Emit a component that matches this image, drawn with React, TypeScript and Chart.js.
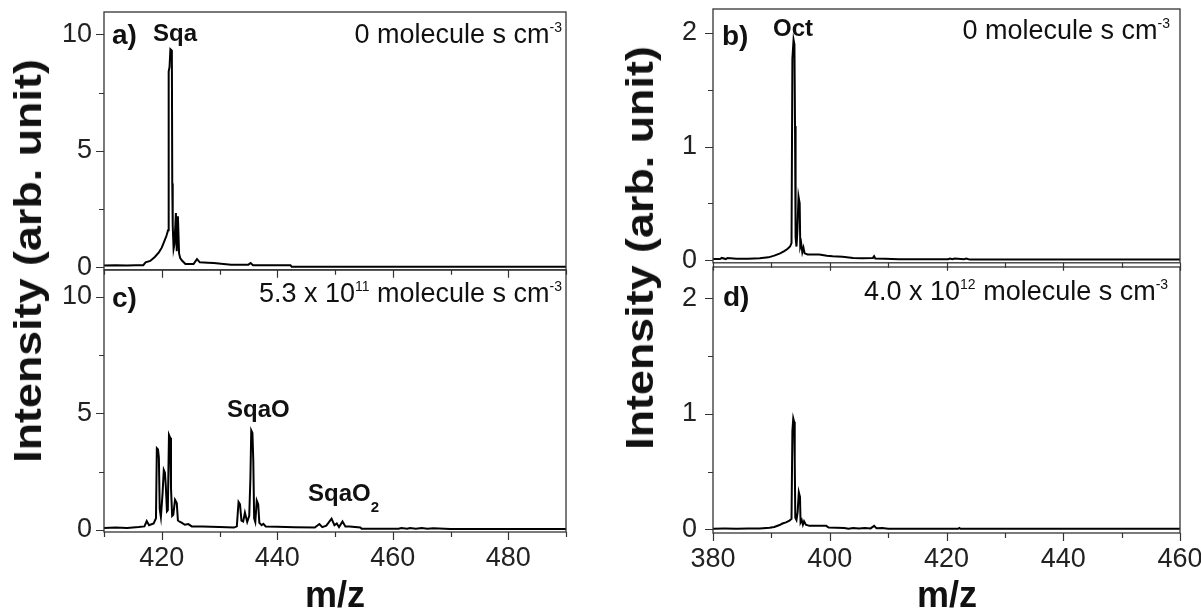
import React, { useEffect, useRef } from 'react';
import { Chart, registerables } from 'chart.js';

Chart.register(...registerables);

const FAMILY = "'Liberation Sans', Arial, Helvetica, sans-serif";
const INK = '#111111';
const AXIS = '#333333';

// ---------------- data (m/z, intensity) ----------------
// a) squalane, 0 molecule s cm^-3
const sqaSpectrum: [number, number][] = [
  [410, 0.08], [412, 0.09], [414, 0.08], [415.5, 0.1], [416.8, 0.1], [417.2, 0.22], [418.0, 0.28],
  [418.8, 0.45], [419.5, 0.65], [420.0, 0.85], [420.4, 1.1], [420.8, 1.35], [421.1, 1.6], [421.2, 8.4],
  [421.35, 8.6], [421.5, 9.36], [421.75, 9.3], [421.82, 3.6], [421.9, 1.8], [422.05, 0.8], [422.2, 1.0],
  [422.45, 2.34], [422.6, 0.7], [422.8, 2.2], [423.0, 0.6], [423.2, 0.4], [423.5, 0.3], [424.1, 0.15],
  [425.5, 0.15], [426.1, 0.36], [426.6, 0.22], [428.0, 0.2], [429.0, 0.19], [432.0, 0.12], [435.0, 0.12],
  [435.4, 0.19], [435.8, 0.1], [437.7, 0.09], [442.3, 0.09], [442.5, 0.03], [460, 0.03], [490, 0.03],
];

// c) squalane, 5.3 x 10^11 molecule s cm^-3
const sqaOxSpectrum: [number, number][] = [
  [410, 0.08], [412, 0.1], [414, 0.08], [416, 0.12], [417.0, 0.15], [417.4, 0.38], [417.8, 0.2],
  [418.6, 0.28], [419.0, 0.5], [419.15, 3.5], [419.35, 3.45], [419.5, 3.1], [419.65, 0.9], [419.85, 0.55],
  [420.15, 1.6], [420.35, 2.57], [420.55, 2.45], [420.7, 1.9], [420.9, 0.8], [421.05, 0.85], [421.25, 4.07],
  [421.45, 3.95], [421.6, 1.8], [421.8, 0.6], [422.0, 0.65], [422.3, 1.29], [422.6, 1.15], [422.8, 0.4],
  [423.1, 0.35], [423.5, 0.3], [424.0, 0.22], [424.6, 0.25], [425.2, 0.15], [427.0, 0.15], [430.0, 0.12],
  [432.5, 0.1], [433.0, 0.15], [433.3, 1.2], [433.55, 1.1], [433.8, 0.4], [434.1, 0.36], [434.4, 0.74],
  [434.8, 0.34], [435.15, 0.6], [435.35, 2.2], [435.5, 4.26], [435.7, 4.15], [435.85, 3.0], [436.0, 0.5],
  [436.2, 0.34], [436.45, 1.26], [436.7, 1.1], [436.9, 0.3], [437.3, 0.2], [437.6, 0.26], [438.0, 0.15],
  [440.0, 0.13], [443.0, 0.11], [446.5, 0.1], [447.3, 0.25], [447.8, 0.12], [448.5, 0.18], [449.4, 0.48],
  [449.9, 0.2], [450.3, 0.28], [450.7, 0.12], [451.3, 0.36], [451.8, 0.15], [452.5, 0.15], [454.4, 0.1],
  [454.6, 0.05], [461.0, 0.05], [461.5, 0.08], [462.5, 0.05], [463.0, 0.08], [464.0, 0.05], [465.0, 0.08],
  [466.0, 0.05], [467.0, 0.07], [470.0, 0.04], [490.0, 0.04],
];

// b) octacosane, 0 molecule s cm^-3
const octSpectrum: [number, number][] = [
  [380, 0.01], [381.2, 0.01], [381.5, 0.02], [382.2, 0.01], [382.5, 0.02], [384, 0.012], [386, 0.012],
  [388, 0.018], [389.5, 0.025], [390.5, 0.04], [391.5, 0.06], [392.2, 0.08], [392.8, 0.1], [393.2, 0.12],
  [393.45, 0.15], [393.6, 1.77], [393.8, 1.94], [393.95, 1.9], [394.05, 1.18], [394.15, 0.2], [394.3, 0.12],
  [394.45, 0.25], [394.65, 0.56], [394.85, 0.5], [394.95, 0.12], [395.1, 0.15], [395.3, 0.07], [395.5, 0.11],
  [395.7, 0.06], [396.2, 0.05], [397.0, 0.05], [398.2, 0.05], [399.5, 0.04], [400.5, 0.035], [402.2, 0.03],
  [404.0, 0.02], [405.5, 0.018], [407.4, 0.02], [407.6, 0.035], [407.8, 0.015], [409.5, 0.012], [411.8, 0.008],
  [420.3, 0.008], [420.6, 0.015], [421.0, 0.008], [421.4, 0.015], [423.0, 0.008], [423.4, 0.015], [424.0, 0.005],
  [460, 0.005],
];

// d) octacosane, 4.0 x 10^12 molecule s cm^-3
const octOxSpectrum: [number, number][] = [
  [380, 0.005], [382, 0.006], [384, 0.005], [386, 0.006], [388, 0.006], [389.7, 0.014], [390.5, 0.02],
  [391.4, 0.037], [391.9, 0.05], [392.5, 0.06], [393.1, 0.075], [393.45, 0.09], [393.6, 0.85], [393.75, 0.96],
  [393.9, 0.93], [394.0, 0.6], [394.1, 0.1], [394.3, 0.08], [394.5, 0.15], [394.7, 0.32], [394.9, 0.28],
  [395.0, 0.06], [395.2, 0.08], [395.4, 0.04], [395.6, 0.07], [395.9, 0.04], [396.5, 0.03], [399.4, 0.03],
  [399.8, 0.015], [402.5, 0.012], [403.2, 0.005], [404, 0.012], [405, 0.006], [406, 0.012], [407, 0.008],
  [407.6, 0.03], [408, 0.01], [409, 0.012], [410, 0.005], [422, 0.005], [422.2, 0.012], [422.4, 0.005],
  [460, 0.005],
];

// ---------------- ticks ----------------
const leftXTicks = [410, 420, 430, 440, 450, 460, 470, 480, 490];
const leftXLabels = [420, 440, 460, 480];
const rightXTicks = [380, 390, 400, 410, 420, 430, 440, 450, 460];
const rightXLabels = [380, 400, 420, 440, 460];
const leftYTicks = [0, 2.5, 5, 7.5, 10];
const leftYLabels = [0, 5, 10];
const rightYTicks = [0, 0.5, 1, 1.5, 2];
const rightYLabels = [0, 1, 2];

// ---------------- layout / styling ----------------
interface Seg { text: string; font: string; dy?: number }
interface Note { segs: Seg[]; x: number; y: number; align: 'left' | 'right' }
interface PanelDef {
  key: string;
  spectrum: [number, number][];
  area: { l: number; t: number; r: number; b: number };
  x: [number, number];
  y: [number, number];
  xTicks: number[]; xLabels: number[];
  yTicks: number[]; yLabels: number[];
  showX: boolean;
  yPad: number;
  notes: Note[];
}

const REG = `27px ${FAMILY}`;
const SUP = `14px ${FAMILY}`;
const LAB = `bold 28px ${FAMILY}`;
const SPE = `bold 24px ${FAMILY}`;
const SUB = `bold 15px ${FAMILY}`;

const panels: PanelDef[] = [
  {
    key: 'a', spectrum: sqaSpectrum, area: { l: 104, t: 12, r: 566, b: 270 }, x: [410, 490], y: [-0.1, 10.96],
    xTicks: leftXTicks, xLabels: leftXLabels, yTicks: leftYTicks, yLabels: leftYLabels, showX: false, yPad: 4,
    notes: [
      { segs: [{ text: 'a)', font: LAB }], x: 112, y: 44, align: 'left' },
      { segs: [{ text: 'Sqa', font: SPE }], x: 153, y: 41, align: 'left' },
      { segs: [{ text: '0 molecule s cm', font: REG }, { text: '-3', font: SUP, dy: -11 }], x: 562, y: 43, align: 'right' },
    ],
  },
  {
    key: 'c', spectrum: sqaOxSpectrum, area: { l: 104, t: 270, r: 566, b: 532 }, x: [410, 490], y: [-0.09, 11.14],
    xTicks: leftXTicks, xLabels: leftXLabels, yTicks: leftYTicks, yLabels: leftYLabels, showX: true, yPad: 4,
    notes: [
      { segs: [{ text: 'c)', font: LAB }], x: 112, y: 307, align: 'left' },
      {
        segs: [{ text: '5.3 x 10', font: REG }, { text: '11', font: SUP, dy: -11 }, { text: ' molecule s cm', font: REG }, { text: '-3', font: SUP, dy: -11 }],
        x: 562, y: 302, align: 'right',
      },
      { segs: [{ text: 'SqaO', font: SPE }], x: 227, y: 417, align: 'left' },
      { segs: [{ text: 'SqaO', font: SPE }, { text: '2', font: SUB, dy: 11 }], x: 308, y: 501, align: 'left' },
    ],
  },
  {
    key: 'b', spectrum: octSpectrum, area: { l: 713, t: 9, r: 1180, b: 267 }, x: [380, 460], y: [-0.023, 2.21],
    xTicks: rightXTicks, xLabels: rightXLabels, yTicks: rightYTicks, yLabels: rightYLabels, showX: false, yPad: 8,
    notes: [
      { segs: [{ text: 'b)', font: LAB }], x: 722, y: 45, align: 'left' },
      { segs: [{ text: 'Oct', font: SPE }], x: 773, y: 36, align: 'left' },
      { segs: [{ text: '0 molecule s cm', font: REG }, { text: '-3', font: SUP, dy: -11 }], x: 1170, y: 39, align: 'right' },
    ],
  },
  {
    key: 'd', spectrum: octOxSpectrum, area: { l: 713, t: 267, r: 1180, b: 533 }, x: [380, 460], y: [-0.032, 2.27],
    xTicks: rightXTicks, xLabels: rightXLabels, yTicks: rightYTicks, yLabels: rightYLabels, showX: true, yPad: 8,
    notes: [
      { segs: [{ text: 'd)', font: LAB }], x: 723, y: 306, align: 'left' },
      {
        segs: [{ text: '4.0 x 10', font: REG }, { text: '12', font: SUP, dy: -11 }, { text: ' molecule s cm', font: REG }, { text: '-3', font: SUP, dy: -11 }],
        x: 864, y: 300, align: 'left',
      },
    ],
  },
];

function Panel({ def }: { def: PanelDef }) {
  const ref = useRef<HTMLCanvasElement | null>(null);
  const Y_W = 100;
  const PAD_T = 30;
  const PAD_R = 40;
  const X_H = def.showX ? 55 : 20;
  const box = {
    left: def.area.l - Y_W,
    top: def.area.t - PAD_T,
    width: Y_W + (def.area.r - def.area.l) + PAD_R,
    height: PAD_T + (def.area.b - def.area.t) + X_H,
  };

  useEffect(() => {
    const canvas = ref.current;
    if (!canvas) return;
    const decor = {
      id: 'decor_' + def.key,
      afterDatasetsDraw(chart: any) {
        const { ctx, chartArea: a, scales } = chart;
        const xs = scales.x;
        const ys = scales.y;
        ctx.save();
        ctx.strokeStyle = AXIS;
        ctx.lineWidth = 1.3;
        ctx.strokeRect(a.left, a.top, a.right - a.left, a.bottom - a.top);
        ctx.lineWidth = 1.2;
        ctx.beginPath();
        for (const v of def.xTicks) {
          const px = Math.round(xs.getPixelForValue(v)) + 0.5;
          const len = def.xLabels.includes(v) ? 8 : 5;
          ctx.moveTo(px, a.bottom);
          ctx.lineTo(px, a.bottom + len);
        }
        for (const v of def.yTicks) {
          const py = Math.round(ys.getPixelForValue(v)) + 0.5;
          const len = def.yLabels.includes(v) ? 8 : 5;
          ctx.moveTo(a.left - len, py);
          ctx.lineTo(a.left, py);
        }
        ctx.stroke();

        ctx.fillStyle = INK;
        ctx.textBaseline = 'alphabetic';
        ctx.textAlign = 'left';
        for (const n of def.notes) {
          const widths = n.segs.map((s) => {
            ctx.font = s.font;
            return ctx.measureText(s.text).width;
          });
          const total = widths.reduce((p, w) => p + w, 0);
          let cx = (n.align === 'right' ? n.x - total : n.x) - box.left;
          const cy = n.y - box.top;
          n.segs.forEach((s, i) => {
            ctx.font = s.font;
            ctx.fillText(s.text, cx, cy + (s.dy || 0));
            cx += widths[i];
          });
        }
        ctx.restore();
      },
    };

    const chart = new Chart(canvas, {
      type: 'scatter',
      data: {
        datasets: [
          {
            data: def.spectrum.map(([x, y]) => ({ x, y })),
            showLine: true,
            borderColor: '#000000',
            borderWidth: 2,
            pointRadius: 0,
            pointHoverRadius: 0,
            tension: 0,
          },
        ],
      },
      options: {
        animation: false,
        responsive: false,
        maintainAspectRatio: false,
        events: [],
        layout: { padding: { top: PAD_T, right: PAD_R, left: 0, bottom: 0 } },
        plugins: { legend: { display: false }, tooltip: { enabled: false }, title: { display: false } },
        scales: {
          x: {
            type: 'linear',
            min: def.x[0],
            max: def.x[1],
            afterBuildTicks: (s: any) => {
              s.ticks = def.xTicks.map((v) => ({ value: v }));
            },
            afterFit: (s: any) => {
              s.height = X_H;
            },
            grid: { display: true, drawOnChartArea: false, drawTicks: true, tickLength: 8, color: 'rgba(0,0,0,0)', tickColor: 'rgba(0,0,0,0)' },
            border: { display: false },
            ticks: {
              display: def.showX,
              autoSkip: false,
              maxRotation: 0,
              minRotation: 0,
              padding: 2,
              color: '#222222',
              font: { family: FAMILY, size: 27 },
              callback: (v: any) => (def.xLabels.includes(Number(v)) ? String(v) : ''),
            },
          },
          y: {
            type: 'linear',
            min: def.y[0],
            max: def.y[1],
            afterBuildTicks: (s: any) => {
              s.ticks = def.yTicks.map((v) => ({ value: v }));
            },
            afterFit: (s: any) => {
              s.width = Y_W;
            },
            grid: { display: true, drawOnChartArea: false, drawTicks: true, tickLength: 8, color: 'rgba(0,0,0,0)', tickColor: 'rgba(0,0,0,0)' },
            border: { display: false },
            ticks: {
              autoSkip: false,
              padding: def.yPad,
              color: '#222222',
              font: { family: FAMILY, size: 27 },
              callback: (v: any) => (def.yLabels.includes(Number(v)) ? String(v) : ''),
            },
          },
        },
      },
      plugins: [decor],
    } as any);
    return () => chart.destroy();
  }, []);

  return (
    <canvas
      ref={ref}
      width={box.width}
      height={box.height}
      style={{ position: 'absolute', left: box.left, top: box.top, width: box.width, height: box.height }}
    />
  );
}

const yTitleStyle = (cx: number, cy: number): React.CSSProperties => ({
  position: 'absolute',
  left: cx,
  top: cy,
  transform: 'translate(-50%, -50%) rotate(-90deg) scaleX(1.18)',
  font: `bold 38px ${FAMILY}`,
  lineHeight: '38px',
  whiteSpace: 'nowrap',
  color: INK,
});

const xTitleStyle = (cx: number, baseline: number): React.CSSProperties => ({
  position: 'absolute',
  left: cx,
  top: baseline - 30.5,
  transform: 'translateX(-50%)',
  font: `bold 36px ${FAMILY}`,
  lineHeight: '36px',
  whiteSpace: 'nowrap',
  color: INK,
});

export default function App() {
  return (
    <div style={{ position: 'fixed', left: 0, top: 0, width: 1201, height: 608, overflow: 'hidden', background: '#ffffff' }}>
      {panels.map((p) => (
        <Panel key={p.key} def={p} />
      ))}
      <div style={yTitleStyle(28, 261)}>Intensity (arb. unit)</div>
      <div style={yTitleStyle(640, 248)}>Intensity (arb. unit)</div>
      <div style={xTitleStyle(335, 607)}>m/z</div>
      <div style={xTitleStyle(947, 607)}>m/z</div>
    </div>
  );
}
